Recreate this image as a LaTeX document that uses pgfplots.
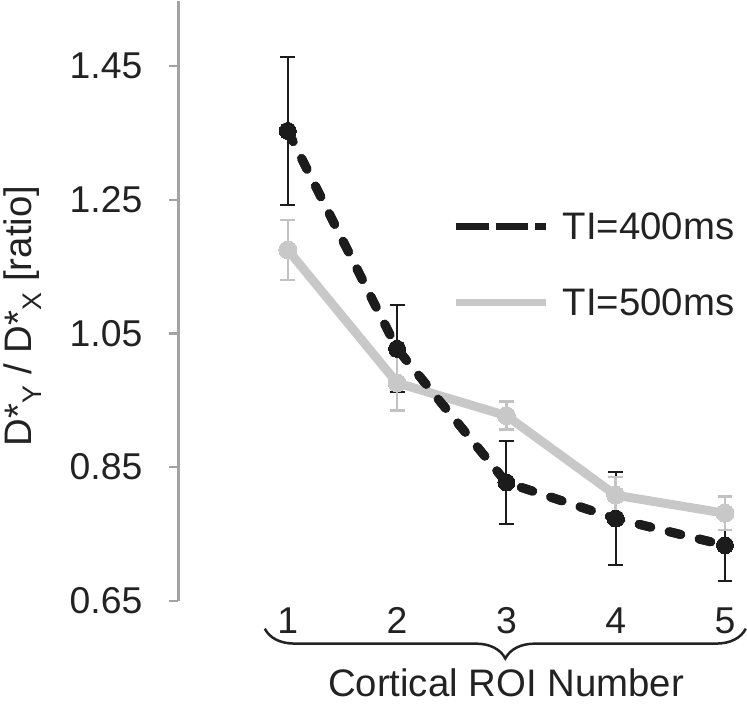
\documentclass[border=0pt]{standalone}
\usepackage{fontspec}
\setmainfont{Liberation Sans}
\usepackage{pgfplots}
\pgfplotsset{compat=1.18}
\usetikzlibrary{decorations.pathreplacing}
\definecolor{dk}{HTML}{1C1C1C}
\definecolor{lg}{HTML}{C8C8C8}
\definecolor{lge}{HTML}{C2C2C2}
\definecolor{ax}{HTML}{A3A3A3}
\definecolor{txt}{HTML}{222222}
\newcommand{\bigf}{\fontsize{38.5}{46}\selectfont}
\newcommand{\tickf}{\fontsize{37.5}{45}\selectfont}
\pgfplotstableread{
x y e
1 1.353 0.111
2 1.027 0.065
3 0.827 0.062
4 0.773 0.069
5 0.733 0.053
}\tfour
\pgfplotstableread{
x y e
1 1.175 0.045
2 0.976 0.041
3 0.927 0.021
4 0.808 0.027
5 0.781 0.025
}\tfive
\begin{document}
\begin{tikzpicture}
\begin{axis}[
 scale only axis, width=570.7pt, height=602pt,
 xmin=0, xmax=5.2, ymin=0.65, ymax=1.547,
 clip=false,
 axis x line*=bottom, x axis line style={draw=none},
 axis y line*=left, y axis line style={ax, line width=2.5pt},
 xtick={1,2,3,4,5}, xticklabels={1,2,3,4,5}, xtick style={draw=none},
 xticklabel style={anchor=center, yshift=-10pt, inner sep=0pt},
 ytick={0.65,0.85,1.05,1.25,1.45},
 yticklabels={0.65,0.85,1.05,1.25,1.45},
 tick align=outside, major tick length=10pt,
 ytick style={ax, line width=2.5pt},
 yticklabel style={anchor=east, inner sep=0pt, xshift=-26pt},
 tick label style={font=\tickf, text=txt},
 legend style={at={(axis cs:2.503,1.153)}, anchor=west, draw=none, fill=none,
   font=\bigf, text=txt, row sep=48pt, inner sep=0pt, column sep=13pt,
   nodes={inner sep=0pt}},
 legend cell align=left,
 legend image code/.code={\draw[#1] (0pt,0pt) -- (91pt,0pt);},
]
% black series (with error bars) first
\addplot[dk, line width=9pt, line cap=round, dash pattern=on 12pt off 19pt,
  mark=*, mark size=8.5pt, mark options={solid, fill=dk, draw=dk, line width=0pt},
  forget plot,
  error bars/.cd, y dir=both, y explicit,
  error bar style={dk, line width=2pt, solid, line cap=butt},
  error mark options={dk, rotate=90, mark size=7.5pt, line width=2pt, solid}]
  table[x=x, y=y, y error=e] {\tfour};
% gray series
\addplot[lg, line width=9pt, line cap=round, line join=round,
  mark=*, mark size=9pt, mark options={solid, fill=lg, draw=lg, line width=0pt},
  forget plot,
  error bars/.cd, y dir=both, y explicit,
  error bar style={lge, line width=2.5pt, line cap=butt},
  error mark options={lge, rotate=90, mark size=7.5pt, line width=2.5pt}]
  table[x=x, y=y, y error=e] {\tfive};
% black line and markers again on top
\addplot[dk, line width=9pt, line cap=round, dash pattern=on 12pt off 19pt,
  mark=*, mark size=8.5pt, mark options={solid, fill=dk, draw=dk, line width=0pt},
  forget plot]
  table[x=x, y=y] {\tfour};
\addlegendimage{dk, line width=7pt, dash pattern=on 33pt off 7pt}
\addlegendentry{TI=400ms}
\addlegendimage{lg, line width=7pt}
\addlegendentry{TI=500ms}
\node[rotate=90, font=\bigf, text=txt] at (axis cs:-1.43,1.076)
  {D*\textsubscript{Y} / D*\textsubscript{X} [ratio]};
\node[font=\bigf, text=txt, inner sep=0pt] at (axis cs:2.996,0.527) {Cortical ROI Number};
\draw[txt, line width=2.5pt, decorate, decoration={brace, mirror, amplitude=30pt}]
  (axis cs:0.79,0.6083) -- (axis cs:5.19,0.6083);
\path (axis cs:3,0.4891) coordinate (bot);
\useasboundingbox (bot);
\end{axis}
\end{tikzpicture}
\end{document}
